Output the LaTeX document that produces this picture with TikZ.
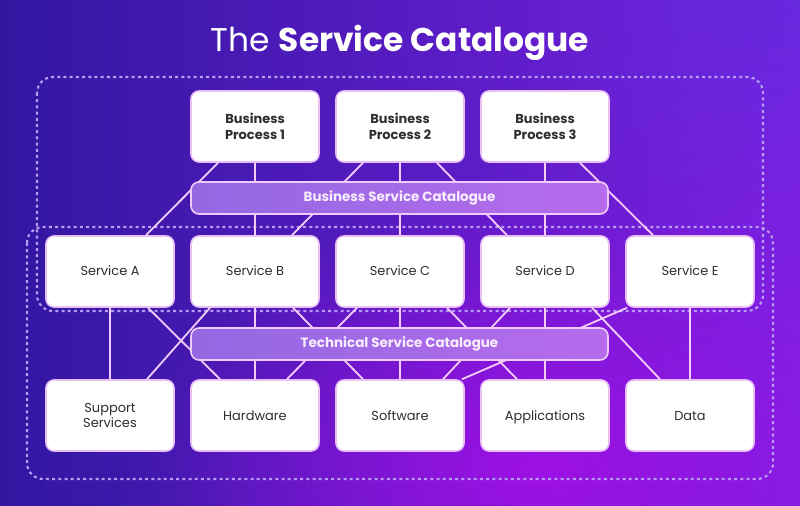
\documentclass[tikz,border=0pt]{standalone}
\usepackage{fontspec}
\setmainfont{Poppins}
\usetikzlibrary{calc,fadings}
\tikzfading[name=myglow, inner color=transparent!0, outer color=transparent!100]
\definecolor{bgleft}{HTML}{3117A0}
\definecolor{bgright}{HTML}{7C20E2}
\definecolor{glow}{HTML}{A80FE8}
\definecolor{topright}{HTML}{5A2EDC}
\definecolor{cardline}{HTML}{E9BFF8}
\definecolor{linecol}{HTML}{F5CCF8}
\definecolor{dotcol}{HTML}{B89CF4}
\definecolor{txt}{HTML}{2E2E2E}
\definecolor{barline}{HTML}{F0CBFA}
\definecolor{barleft}{HTML}{9468E2}
\definecolor{barright}{HTML}{B66CEC}
\definecolor{bartxt}{HTML}{F8EDFF}
\tikzset{
  card/.style={draw=cardline, line width=1.6bp, fill=white, rounded corners=8bp,
    minimum width=128bp, minimum height=71bp, inner sep=2bp, align=center,
    text=txt, font=\fontsize{13}{16}\selectfont},
  one/.style={text height=9.4bp, text depth=0.4bp},
  bpcard/.style={card, font=\fontsize{13}{16}\selectfont\bfseries},
  catbar/.style={draw=barline, line width=1.6bp, left color=barleft, right color=barright,
    rounded corners=8bp, minimum width=417bp, minimum height=32bp,
    text=bartxt, font=\fontsize{13.5}{16}\selectfont\bfseries},
  conn/.style={draw=linecol, line width=1.8bp},
  dotrect/.style={draw=dotcol, line width=2.1bp, dash pattern=on 3bp off 3.2bp,
    rounded corners=16bp}
}
\begin{document}
\begin{tikzpicture}[x=1bp,y=-1bp]
\useasboundingbox (0,0) rectangle (800,506);
% background
\shade[left color=bgleft, right color=bgright] (0,0) rectangle (800,506);
\fill[glow, path fading=myglow, opacity=0.85] (540,470) ellipse (400 and 280);
\fill[topright, path fading=myglow, opacity=0.6] (800,0) ellipse (300 and 220);
% title
\node[font=\fontsize{33}{38}\selectfont, text=white] (title) at (400,43)
  {The \textbf{Service Catalogue}};
% dotted groups
\draw[dotrect] (37,77) rectangle (763,311);
\draw[dotrect] (27,227) rectangle (773,479);
% cards
\node[bpcard] (bp1) at (255,126.5) {Business\\Process 1};
\node[bpcard] (bp2) at (400,126.5) {Business\\Process 2};
\node[bpcard] (bp3) at (545,126.5) {Business\\Process 3};
\node[card,one] (sa) at (110,271.5) {Service A};
\node[card,one] (sb) at (255,271.5) {Service B};
\node[card,one] (sc) at (400,271.5) {Service C};
\node[card,one] (sd) at (545,271.5) {Service D};
\node[card,one] (se) at (690,271.5) {Service E};
\node[card] (sup) at (110,415.5) {Support\\Services};
\node[card,one] (hw) at (255,415.5) {Hardware};
\node[card,one] (sw) at (400,415.5) {Software};
\node[card,one] (app) at (545,415.5) {Applications};
\node[card,one] (dat) at (690,415.5) {Data};
% upper connectors
\draw[conn] ($(bp1.south)+(-37,0)$) -- ($(sa.north)+(36,0)$);
\draw[conn] (bp1.south) -- (sb.north);
\draw[conn] ($(bp2.south)+(-37,0)$) -- ($(sb.north)+(37,0)$);
\draw[conn] (bp2.south) -- (sc.north);
\draw[conn] ($(bp2.south)+(37,0)$) -- ($(sd.north)+(-38,0)$);
\draw[conn] (bp3.south) -- (sd.north);
\draw[conn] ($(bp3.south)+(35,0)$) -- ($(se.north)+(-37,0)$);
% lower connectors
\draw[conn] (sa.south) -- (sup.north);
\draw[conn] ($(sa.south)+(38,0)$) -- ($(hw.north)+(-35,0)$);
\draw[conn] ($(sb.south)+(-45,0)$) -- ($(sup.north)+(37,0)$);
\draw[conn] (sb.south) -- (hw.north);
\draw[conn] ($(sb.south)+(38,0)$) -- ($(sw.north)+(-37,0)$);
\draw[conn] ($(sc.south)+(-43,0)$) -- ($(hw.north)+(32,0)$);
\draw[conn] (sc.south) -- (sw.north);
\draw[conn] ($(sc.south)+(47,0)$) -- ($(app.north)+(-28,0)$);
\draw[conn] ($(sd.south)+(-35,0)$) -- ($(sw.north)+(43,0)$);
\draw[conn] (sd.south) -- (app.north);
\draw[conn] ($(sd.south)+(47,0)$) -- ($(dat.north)+(-30,0)$);
\draw[conn] ($(se.south)+(-63,0)$) -- ($(sw.north)+(62,0)$);
\draw[conn] (se.south) -- (dat.north);
% catalogue bars
\node[catbar] (bsc) at (399.5,198) {Business Service Catalogue};
\node[catbar] (tsc) at (399.5,344) {Technical Service Catalogue};
\end{tikzpicture}
\end{document}
